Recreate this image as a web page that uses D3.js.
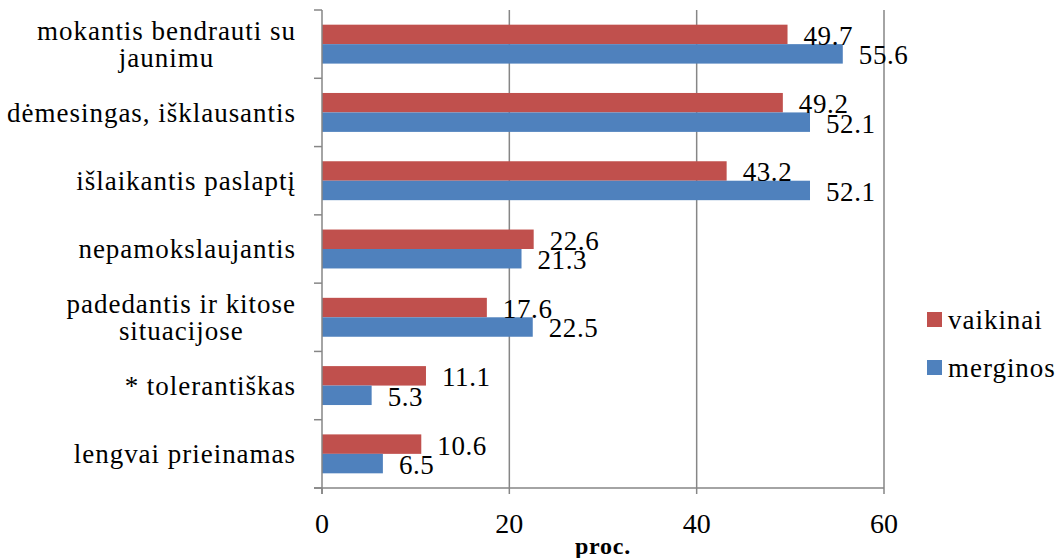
<!DOCTYPE html>
<html><head><meta charset="utf-8">
<script src="https://cdn.jsdelivr.net/npm/d3@7/dist/d3.min.js"></script>
<style>body{margin:0;background:#fff;} svg{display:block;}</style>
</head><body>
<svg id="chart" width="1058" height="558"></svg>
<script>
const categories = [
  ["mokantis bendrauti su","jaunimu"],
  ["dėmesingas, išklausantis"],
  ["išlaikantis paslaptį"],
  ["nepamokslaujantis"],
  ["padedantis ir kitose","situacijose"],
  ["* tolerantiškas"],
  ["lengvai prieinamas"]
];
const vaikinai = [49.7, 49.2, 43.2, 22.6, 17.6, 11.1, 10.6];
const merginos = [55.6, 52.1, 52.1, 21.3, 22.5, 5.3, 6.5];
const seriesNames = ["vaikinai", "merginos"];
const xTicks = [0, 20, 40, 60];
const colors = ["#C0504D", "#4F81BD"];

(function(){
const FF = "Liberation Serif";
const svg = d3.select("#chart");
const pL = 322, pR = 884, pT = 10, pB = 488;
const x = d3.scaleLinear().domain([0, 60]).range([pL, pR]);
const y = d3.scaleBand().domain(d3.range(categories.length)).range([pT, pB]).paddingInner(0.43).paddingOuter(0.215);
const inner = d3.scaleBand().domain([0,1]).range([0, y.bandwidth()]);
const grey = "#868686";
const FS = 27;

const probe = svg.append("text").attr("font-family", FF).attr("font-size", FS).text("mokantis bendrauti su");
const w0 = probe.node().getComputedTextLength();
probe.remove();
const LS = Math.max(0, (258 - w0) / 20);

svg.append("g").selectAll("line").data(xTicks.filter(d => d > 0)).join("line")
  .attr("x1", d => x(d)).attr("x2", d => x(d)).attr("y1", pT).attr("y2", pB)
  .attr("stroke", grey).attr("stroke-width", 1.5);

const series = [vaikinai, merginos];
series.forEach((vals, si) => {
  svg.append("g").selectAll("rect").data(vals).join("rect")
    .attr("x", x(0)).attr("y", (d, i) => y(i) + inner(si))
    .attr("width", d => x(d) - x(0)).attr("height", inner.bandwidth())
    .attr("fill", colors[si]);
});
series.forEach((vals, si) => {
  svg.append("g").selectAll("text").data(vals).join("text")
    .attr("x", d => x(d) + 16).attr("y", (d, i) => y(i) + inner(si) + inner.bandwidth()/2 + 1)
    .attr("dy", "0.35em").attr("font-size", FS).attr("font-family", FF).attr("letter-spacing", 0.6).attr("fill", "#000")
    .text(d => d.toFixed(1));
});

const bandStep = (pB - pT) / categories.length;
svg.append("line").attr("x1", pL).attr("x2", pL).attr("y1", pT).attr("y2", pB + 6)
  .attr("stroke", grey).attr("stroke-width", 1.5);
svg.append("g").selectAll("line").data(d3.range(categories.length + 1)).join("line")
  .attr("x1", pL - 8).attr("x2", pL).attr("y1", i => pT + i * bandStep).attr("y2", i => pT + i * bandStep)
  .attr("stroke", grey).attr("stroke-width", 1.5);

svg.append("line").attr("x1", pL - 8).attr("x2", pR).attr("y1", pB).attr("y2", pB)
  .attr("stroke", grey).attr("stroke-width", 1.5);
svg.append("g").selectAll("line").data(xTicks).join("line")
  .attr("x1", d => x(d)).attr("x2", d => x(d)).attr("y1", pB).attr("y2", pB + 6)
  .attr("stroke", grey).attr("stroke-width", 1.5);
svg.append("g").selectAll("text").data(xTicks).join("text")
  .attr("x", d => x(d)).attr("y", 523).attr("dy", "0.35em").attr("text-anchor", "middle")
  .attr("font-size", 28).attr("font-family", FF).text(d => d);
svg.append("text").attr("x", x(30)).attr("y", 554).attr("text-anchor", "middle")
  .attr("font-size", 24).attr("font-family", FF).attr("font-weight", "bold").attr("letter-spacing", 0.8).text("proc.");

const lineH = 27;
categories.forEach((lines, i) => {
  const cy = y(i) + y.bandwidth()/2;
  const t = svg.append("text").attr("font-size", FS).attr("font-family", FF).attr("letter-spacing", LS);
  const tsp = lines.map((l, j) => t.append("tspan").attr("y", cy + (j - (lines.length - 1)/2) * lineH).attr("dy", "0.35em").text(l));
  const widths = tsp.map(s => s.node().getComputedTextLength());
  const maxW = Math.max(...widths);
  tsp.forEach((s, j) => s.attr("x", 296 - maxW/2 - widths[j]/2));
});

seriesNames.forEach((name, i) => {
  const ly = 320 + i * 48;
  svg.append("rect").attr("x", 927).attr("y", ly - 8).attr("width", 15).attr("height", 15).attr("fill", colors[i]);
  svg.append("text").attr("x", 948).attr("y", ly).attr("dy", "0.35em").attr("font-size", FS).attr("font-family", FF).attr("letter-spacing", LS).text(name);
});
})();
</script>
</body></html>
